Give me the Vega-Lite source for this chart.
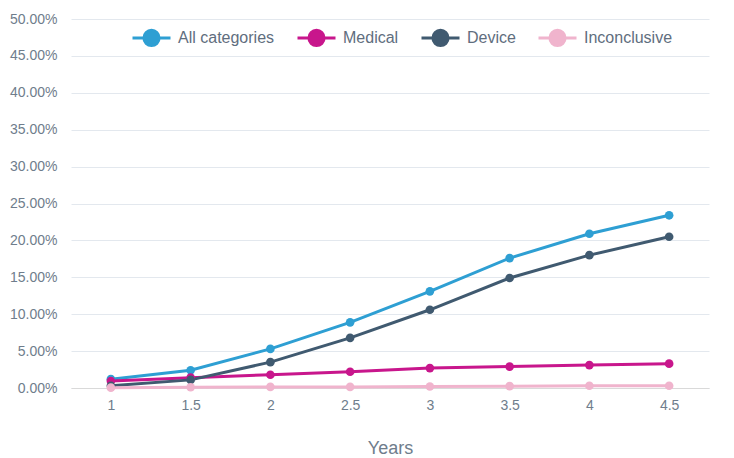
{
  "$schema": "https://vega.github.io/schema/vega-lite/v6.json",
  "width": 638,
  "height": 369,
  "autosize": {"type": "none"},
  "padding": {"left": 71, "top": 19, "right": 25, "bottom": 70},
  "background": "white",
  "config": {
    "view": {"stroke": null},
    "font": "Liberation Sans"
  },
  "data": {
    "values": [
      {"year": 1, "series": "All categories", "v": 0.012},
      {"year": 1.5, "series": "All categories", "v": 0.024},
      {"year": 2, "series": "All categories", "v": 0.053},
      {"year": 2.5, "series": "All categories", "v": 0.089},
      {"year": 3, "series": "All categories", "v": 0.131},
      {"year": 3.5, "series": "All categories", "v": 0.176},
      {"year": 4, "series": "All categories", "v": 0.209},
      {"year": 4.5, "series": "All categories", "v": 0.234},
      {"year": 1, "series": "Medical", "v": 0.0095},
      {"year": 1.5, "series": "Medical", "v": 0.014},
      {"year": 2, "series": "Medical", "v": 0.018},
      {"year": 2.5, "series": "Medical", "v": 0.022},
      {"year": 3, "series": "Medical", "v": 0.027},
      {"year": 3.5, "series": "Medical", "v": 0.029},
      {"year": 4, "series": "Medical", "v": 0.031},
      {"year": 4.5, "series": "Medical", "v": 0.033},
      {"year": 1, "series": "Device", "v": 0.003},
      {"year": 1.5, "series": "Device", "v": 0.011},
      {"year": 2, "series": "Device", "v": 0.035},
      {"year": 2.5, "series": "Device", "v": 0.068},
      {"year": 3, "series": "Device", "v": 0.106},
      {"year": 3.5, "series": "Device", "v": 0.149},
      {"year": 4, "series": "Device", "v": 0.180},
      {"year": 4.5, "series": "Device", "v": 0.205},
      {"year": 1, "series": "Inconclusive", "v": 0.0005},
      {"year": 1.5, "series": "Inconclusive", "v": 0.001},
      {"year": 2, "series": "Inconclusive", "v": 0.0015},
      {"year": 2.5, "series": "Inconclusive", "v": 0.0015},
      {"year": 3, "series": "Inconclusive", "v": 0.002},
      {"year": 3.5, "series": "Inconclusive", "v": 0.0025},
      {"year": 4, "series": "Inconclusive", "v": 0.003},
      {"year": 4.5, "series": "Inconclusive", "v": 0.003}
    ]
  },
  "encoding": {
    "x": {
      "field": "year", "type": "quantitative",
      "scale": {"domain": [0.75, 4.75], "nice": false, "zero": false},
      "axis": {
        "values": [1, 1.5, 2, 2.5, 3, 3.5, 4, 4.5],
        "format": ".1~f",
        "title": "Years",
        "grid": false,
        "ticks": false,
        "domain": true,
        "domainColor": "#d9d9d9",
        "domainWidth": 1,
        "labelColor": "#6f7d8c",
        "labelFontSize": 14,
        "labelPadding": 10,
        "titleColor": "#6f7d8c",
        "titleFontSize": 18,
        "titleFontWeight": "normal",
        "titlePadding": 27
      }
    },
    "y": {
      "field": "v", "type": "quantitative",
      "scale": {"domain": [0, 0.5], "nice": false},
      "axis": {
        "values": [0, 0.05, 0.1, 0.15, 0.2, 0.25, 0.3, 0.35, 0.4, 0.45, 0.5],
        "format": ".2%",
        "title": null,
        "ticks": false,
        "domain": false,
        "gridColor": "#e3e8ee",
        "gridWidth": 1,
        "labelColor": "#6f7d8c",
        "labelFontSize": 14,
        "labelPadding": 14
      }
    },
    "color": {
      "field": "series", "type": "nominal",
      "scale": {
        "domain": ["All categories", "Medical", "Device", "Inconclusive"],
        "range": ["#2e9fd3", "#c8168c", "#405a70", "#f0b4cd"]
      },
      "legend": {
        "title": null,
        "orient": "none",
        "legendX": 60,
        "legendY": -2,
        "direction": "horizontal",
        "symbolType": "M-1,0H1M-0.4,0A0.4,0.4 0 1,1 0.4,0A0.4,0.4 0 1,1 -0.4,0Z",
        "symbolSize": 1444,
        "symbolStrokeWidth": 3,
        "labelFontSize": 16,
        "labelColor": "#5f6e7e",
        "labelOffset": 6,
        "columnPadding": 16,
        "symbolOpacity": 1
      }
    }
  },
  "layer": [
    {"mark": {"type": "line", "strokeWidth": 3}},
    {"mark": {"type": "point", "filled": true, "size": 75, "opacity": 1}}
  ]
}
